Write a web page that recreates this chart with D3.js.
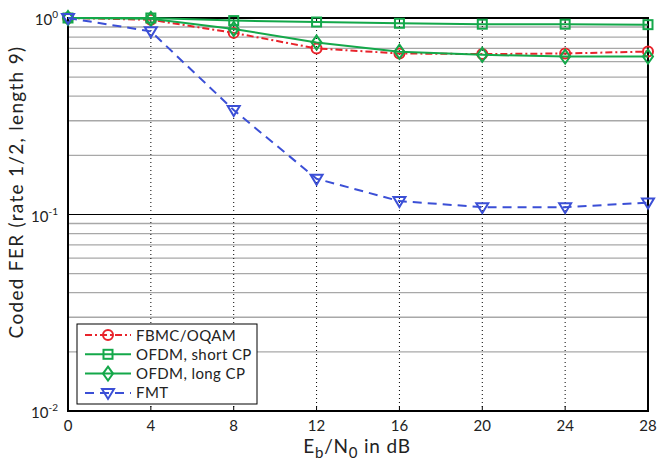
<!DOCTYPE html>
<html>
<head>
<meta charset="utf-8">
<script src="https://cdn.jsdelivr.net/npm/d3@7"></script>
<style>
  body { margin: 0; background: #fff; }
  svg { font-family: "Lato", "DejaVu Sans", sans-serif; }
</style>
</head>
<body>
<svg width="659" height="465"></svg>
<script>
// données
const snr = [0, 4, 8, 12, 16, 20, 24, 28];
const fbmc = [1.0, 0.98, 0.84, 0.70, 0.66, 0.655, 0.66, 0.675];
const ofdmShort = [1.0, 1.0, 0.97, 0.954, 0.94, 0.93, 0.93, 0.925];
const ofdmLong = [1.0, 0.99, 0.88, 0.75, 0.674, 0.65, 0.636, 0.636];
const fmt = [1.0, 0.855, 0.34, 0.152, 0.117, 0.109, 0.109, 0.115];
const xTicks = [0, 4, 8, 12, 16, 20, 24, 28];
const yDecades = [1, 0.1, 0.01];
const seriesNames = ["FBMC/OQAM", "OFDM, short CP", "OFDM, long CP", "FMT"];

const svg = d3.select("svg");
const PLOT_L = 68, PLOT_R = 648, PLOT_T = 18, PLOT_B = 411;

const x = d3.scaleLinear().domain([0, 28]).range([PLOT_L, PLOT_R]);
const y = d3.scaleLog().domain([0.01, 1]).range([PLOT_B, PLOT_T]);

const series = [
  { name: seriesNames[0], values: fbmc, color: "#e8232b", dash: "7,3,2,3", marker: "circle" },
  { name: seriesNames[1], values: ofdmShort, color: "#14a84a", dash: null, marker: "square" },
  { name: seriesNames[2], values: ofdmLong, color: "#14a84a", dash: null, marker: "diamond" },
  { name: seriesNames[3], values: fmt, color: "#3b4fd6", dash: "9,6", marker: "triangle" }
];

// grille horizontale (mineures en gris, 10^-1 en noir)
const minor = [];
[0.01, 0.1].forEach(d => { for (let k = 2; k <= 9; k++) minor.push(d * k); });
svg.append("g").selectAll("line").data(minor).enter().append("line")
  .attr("x1", PLOT_L).attr("x2", PLOT_R)
  .attr("y1", d => y(d)).attr("y2", d => y(d))
  .attr("stroke", "#a8a8a8").attr("stroke-width", 1.3);
svg.append("line")
  .attr("x1", PLOT_L).attr("x2", PLOT_R)
  .attr("y1", y(0.1)).attr("y2", y(0.1))
  .attr("stroke", "#000").attr("stroke-width", 1);

// grille verticale pointillée
svg.append("g").selectAll("line").data(xTicks.slice(1, -1)).enter().append("line")
  .attr("x1", d => x(d)).attr("x2", d => x(d))
  .attr("y1", PLOT_T).attr("y2", PLOT_B)
  .attr("stroke", "#000").attr("stroke-width", 1).attr("stroke-dasharray", "1,3");

// petites graduations
svg.append("g").selectAll("line").data(xTicks).enter().append("line")
  .attr("x1", d => x(d)).attr("x2", d => x(d))
  .attr("y1", PLOT_B).attr("y2", PLOT_B - 5)
  .attr("stroke", "#000");
svg.append("g").selectAll("line").data(xTicks).enter().append("line")
  .attr("x1", d => x(d)).attr("x2", d => x(d))
  .attr("y1", PLOT_T).attr("y2", PLOT_T + 5)
  .attr("stroke", "#000");

// cadre
svg.append("rect")
  .attr("x", PLOT_L).attr("y", PLOT_T)
  .attr("width", PLOT_R - PLOT_L).attr("height", PLOT_B - PLOT_T)
  .attr("fill", "none").attr("stroke", "#000").attr("stroke-width", 2);

// étiquettes des axes
svg.append("g").selectAll("text").data(xTicks).enter().append("text")
  .attr("x", d => x(d)).attr("y", 431)
  .attr("text-anchor", "middle").attr("font-size", 15).attr("fill", "#222")
  .text(d => d);

const yt = svg.append("g").selectAll("text").data(yDecades).enter().append("text")
  .attr("x", PLOT_L - 10).attr("y", d => y(d) + 7)
  .attr("text-anchor", "end").attr("font-size", 15).attr("fill", "#222");
yt.append("tspan").text("10");
yt.append("tspan").attr("dy", -7).attr("font-size", 10).text(d => Math.round(Math.log10(d)));

svg.append("text")
  .attr("transform", "translate(23,192) rotate(-90)")
  .attr("text-anchor", "middle").attr("font-size", 19).attr("fill", "#222")
  .attr("letter-spacing", 1.3)
  .text("Coded FER (rate 1/2, length 9)");

const xl = svg.append("text")
  .attr("x", 357).attr("y", 453)
  .attr("text-anchor", "middle").attr("font-size", 19).attr("fill", "#222")
  .attr("letter-spacing", 0.8);
xl.append("tspan").text("E");
xl.append("tspan").attr("dy", 5).attr("font-size", 15).text("b");
xl.append("tspan").attr("dy", -5).text("/N");
xl.append("tspan").attr("dy", 5).attr("font-size", 15).text("0");
xl.append("tspan").attr("dy", -5).text(" in dB");

// symboles
function drawMarker(g, type, cx, cy, color) {
  if (type === "circle") {
    g.append("circle").attr("cx", cx).attr("cy", cy).attr("r", 5)
      .attr("fill", "none").attr("stroke", color).attr("stroke-width", 2);
  } else if (type === "square") {
    g.append("rect").attr("x", cx - 4.5).attr("y", cy - 4.5).attr("width", 9).attr("height", 9)
      .attr("fill", "none").attr("stroke", color).attr("stroke-width", 2);
  } else if (type === "diamond") {
    g.append("path").attr("d", `M${cx},${cy - 7}L${cx + 5},${cy}L${cx},${cy + 7}L${cx - 5},${cy}Z`)
      .attr("fill", "none").attr("stroke", color).attr("stroke-width", 2);
  } else {
    g.append("path").attr("d", `M${cx - 6},${cy - 4}L${cx + 6},${cy - 4}L${cx},${cy + 6}Z`)
      .attr("fill", "none").attr("stroke", color).attr("stroke-width", 2);
  }
}

const line = d3.line().x(d => x(d[0])).y(d => y(d[1]));
const plot = svg.append("g");
series.forEach(s => {
  const pts = snr.map((v, i) => [v, s.values[i]]);
  plot.append("path").datum(pts)
    .attr("d", line)
    .attr("fill", "none").attr("stroke", s.color).attr("stroke-width", 2)
    .attr("stroke-dasharray", s.dash);
  pts.forEach(p => drawMarker(plot, s.marker, x(p[0]), y(p[1]), s.color));
});

// légende
const lg = svg.append("g");
lg.append("rect").attr("x", 77).attr("y", 324).attr("width", 180).attr("height", 80)
  .attr("fill", "#fff").attr("stroke", "#000").attr("stroke-width", 1);
series.forEach((s, i) => {
  const ly = 335 + i * 19.3;
  lg.append("line").attr("x1", 85).attr("x2", 131).attr("y1", ly).attr("y2", ly)
    .attr("stroke", s.color).attr("stroke-width", 2).attr("stroke-dasharray", s.dash);
  drawMarker(lg, s.marker, 108, ly, s.color);
  lg.append("text").attr("x", 136).attr("y", ly + 5.5)
    .attr("font-size", 15).attr("fill", "#222").attr("letter-spacing", 0.4).text(s.name);
});
</script>
</body>
</html>
